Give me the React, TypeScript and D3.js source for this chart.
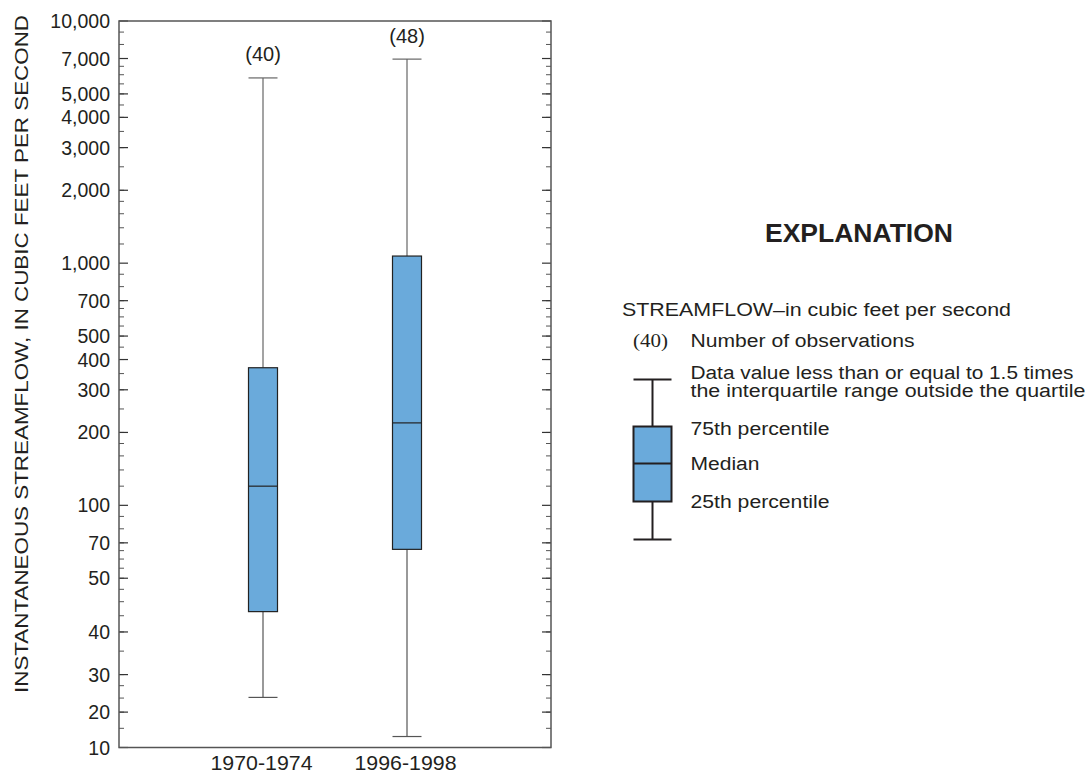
import React from "react";
import * as d3 from "d3";

const categories = ["1970-1974", "1996-1998"];
const counts = [40, 48];
const whiskerLow = [16.1, 11.1];
const q1 = [36.4, 65.8];
const median = [120, 219];
const q3 = [370, 1070];
const whiskerHigh = [5820, 6960];

// labelled ticks (the original figure's labels in the lowest decade)
const tickValues = [10, 14, 20, 30, 50, 70, 100, 200, 300, 400, 500, 700, 1000, 2000, 3000, 4000, 5000, 7000, 10000];
const tickLabels = ["10", "20", "30", "40", "50", "70", "100", "200", "300", "400", "500", "700", "1,000", "2,000", "3,000", "4,000", "5,000", "7,000", "10,000"];
const minorMultipliers = [1.2, 1.4, 1.6, 1.8, 2, 2.5, 3, 3.5, 4, 4.5, 5, 5.5, 6, 6.5, 7, 8, 9];
const decades = [10, 100, 1000];

const W = 1085, H = 773;
const left = 119, right = 551, top = 21, bottom = 747.5;
const FONT = "Liberation Sans, Arial, Helvetica, sans-serif";
const TXT = "#231f20";
const FILL = "#6aaadb";

function T(props: any) {
  const { len, children, ...rest } = props;
  return (
    <text {...rest} textLength={len} lengthAdjust="spacingAndGlyphs" fill={TXT}>
      {children}
    </text>
  );
}

export default function App() {
  const y = d3.scaleLog().domain([10, 10000]).range([bottom, top]);
  const x = d3.scalePoint<string>().domain(categories).range([left, right]).padding(1);
  const bw = 29;

  const minorTicks: number[] = [];
  decades.forEach((d) => minorMultipliers.forEach((m) => minorTicks.push(d * m)));

  const lx = 652.5, lw = 38;
  return (
    <svg width={W} height={H} style={{ position: "absolute", left: 0, top: 0 }} fontFamily={FONT}>
      <rect x={0} y={0} width={W} height={H} fill="#fff" />
      {minorTicks.map((v, i) => (
        <g key={"m" + i} stroke="#555" strokeWidth={1}>
          <line x1={left} x2={left + 5} y1={y(v)} y2={y(v)} />
          <line x1={right} x2={right - 5} y1={y(v)} y2={y(v)} />
        </g>
      ))}
      {tickValues.map((v, i) => (
        <g key={"t" + i}>
          <line x1={left} x2={left + 9} y1={y(v)} y2={y(v)} stroke="#333" strokeWidth={1.2} />
          <line x1={right} x2={right - 9} y1={y(v)} y2={y(v)} stroke="#333" strokeWidth={1.2} />
          <text x={110} y={y(v)} dy="0.36em" textAnchor="end" fontSize={19.5} fill={TXT}>
            {tickLabels[i]}
          </text>
        </g>
      ))}
      <rect x={left} y={top} width={right - left} height={bottom - top} fill="none" stroke="#555" strokeWidth={1.5} />

      {categories.map((c, i) => {
        const cx = x(c) as number;
        return (
          <g key={c}>
            <line x1={cx} x2={cx} y1={y(whiskerHigh[i])} y2={y(q3[i])} stroke="#666" strokeWidth={1.2} />
            <line x1={cx} x2={cx} y1={y(q1[i])} y2={y(whiskerLow[i])} stroke="#555" strokeWidth={1.2} />
            <line x1={cx - bw / 2} x2={cx + bw / 2} y1={y(whiskerHigh[i])} y2={y(whiskerHigh[i])} stroke="#666" strokeWidth={1.2} />
            <line x1={cx - bw / 2} x2={cx + bw / 2} y1={y(whiskerLow[i])} y2={y(whiskerLow[i])} stroke="#555" strokeWidth={1.2} />
            <rect x={cx - bw / 2} y={y(q3[i])} width={bw} height={y(q1[i]) - y(q3[i])} fill={FILL} stroke="#222" strokeWidth={1.2} />
            <line x1={cx - bw / 2} x2={cx + bw / 2} y1={y(median[i])} y2={y(median[i])} stroke="#222" strokeWidth={1.2} />
            <text x={cx} y={y(whiskerHigh[i]) - 16.5} textAnchor="middle" fontSize={20} fill={TXT}>
              ({counts[i]})
            </text>
            <T x={cx - 1.5} y={770} textAnchor="middle" fontSize={19.5} len={102}>
              {c}
            </T>
          </g>
        );
      })}

      <T transform={`translate(28,354) rotate(-90)`} textAnchor="middle" fontSize={19} len={678}>
        INSTANTANEOUS STREAMFLOW, IN CUBIC FEET PER SECOND
      </T>

      <T x={765} y={242} fontSize={26} fontWeight="bold" len={188}>EXPLANATION</T>
      <T x={622} y={316} fontSize={18} len={389}>STREAMFLOW–in cubic feet per second</T>
      <T x={633} y={347} fontSize={18} fontFamily="Liberation Serif, Times New Roman, serif" len={35}>(40)</T>
      <T x={690.5} y={347} fontSize={18} len={224}>Number of observations</T>
      <T x={690.5} y={379} fontSize={18} len={383}>Data value less than or equal to 1.5 times</T>
      <T x={690.5} y={397} fontSize={18} len={395}>the interquartile range outside the quartile</T>
      <g stroke="#231f20" strokeWidth={2}>
        <line x1={lx} x2={lx} y1={379.5} y2={426.5} />
        <line x1={lx} x2={lx} y1={501.5} y2={539.5} />
        <line x1={lx - lw / 2} x2={lx + lw / 2} y1={379.5} y2={379.5} />
        <line x1={lx - lw / 2} x2={lx + lw / 2} y1={539.5} y2={539.5} />
        <rect x={lx - lw / 2} y={426.5} width={lw} height={75} fill={FILL} />
        <line x1={lx - lw / 2} x2={lx + lw / 2} y1={463.5} y2={463.5} />
      </g>
      <T x={690.5} y={435} fontSize={18} len={139}>75th percentile</T>
      <T x={690.5} y={470} fontSize={18} len={69}>Median</T>
      <T x={690.5} y={508} fontSize={18} len={139}>25th percentile</T>
    </svg>
  );
}
